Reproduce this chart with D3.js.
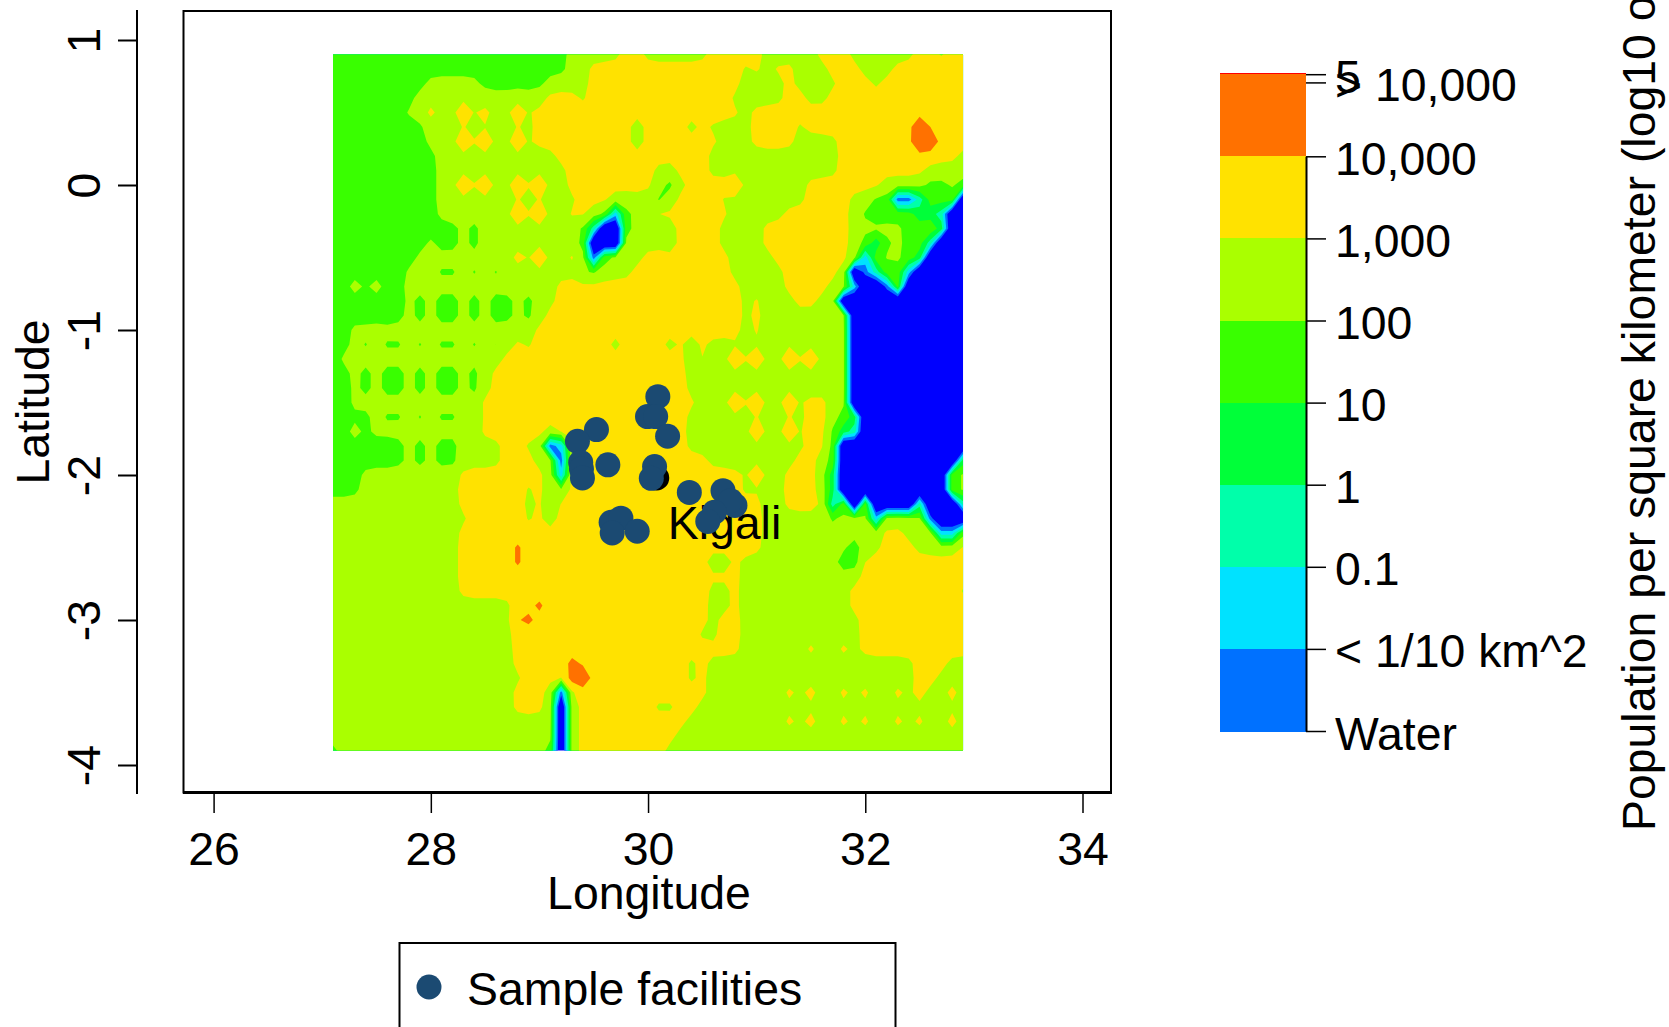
<!DOCTYPE html>
<html>
<head>
<meta charset="utf-8">
<script src="https://cdn.jsdelivr.net/npm/d3@7"></script>
<style>
html, body { margin: 0; padding: 0; background: #fff; overflow: hidden; }
text { font-family: "Liberation Sans", Arial, sans-serif; font-size: 46.4px; fill: #000; }
</style>
</head>
<body>
<div id="chart"></div>
<script>
// log10 population per km2 on a 0.1 degree grid
var lonStart = 27.1, latStart = 0.9, gridStep = 0.1, gridCols = 59;

// what each letter in densityRuns stands for
var densityCodes = { "0": -5, "1": -2.5, "2": -1.5, "3": -0.5, "4": 0.5, "g": 1, "n": 1.3, "5": 1.5, "q": 1.9, "r": 2.4, "6": 2.5, "m": 3.2,
    "7": 3.5, "s": 3.9, "t": 4.1, "h": 4.6, "j": 4.85, "9": 5, "8": 5.5 };

// one line per latitude, north to south: code:lastColumn
var densityRuns = [
    "5:21 6:26 7:28 6:34 7:39 6:44 7:47 6:53 7:55 6:56 7:58",
    "5:21 6:23 7:37 6:38 7:39 6:40 7:42 6:45 7:48 6:51 7:58",
    "5:8 6:13 5:19 6:23 7:37 6:41 7:42 6:46 7:49 6:50 7:58",
    "5:7 6:19 7:22 6:23 7:36 6:41 7:43 6:45 7:58",
    "5:6 6:8 t:9 6:11 9:12 6:13 t:14 6:16 9:17 6:18 7:37 6:38 7:58",
    "5:8 6:18 7:27 q:28 7:32 q:33 7:34 6:38 7:42 6:43 7:53 8:54 7:58",
    "5:8 6:11 9:12 6:13 9:14 6:16 9:17 6:18 7:27 q:28 7:35 6:36 7:37 6:38 7:42 6:46 7:53 8:55 7:58",
    "5:9 6:20 7:34 6:46 7:57 6:58",
    "5:9 6:21 7:29 6:31 7:34 6:46 7:54 6:58",
    "5:9 6:11 9:12 6:13 9:14 6:16 9:17 6:18 9:19 6:21 7:29 6:30 g:31 6:32 7:36 9:37 6:43 7:50 6:54 5:56 6:57 5:58",
    "5:9 6:22 7:25 6:29 g:30 6:31 7:35 6:43 7:47 6:49 5:51 1:53 3:54 5:57 0:58",
    "5:9 6:16 9:17 6:18 9:19 6:21 7:23 6:24 5:25 2:26 5:27 6:29 7:36 6:41 7:47 6:48 5:53 4:55 3:56 0:58",
    "5:11 6:12 n:13 6:22 5:23 3:24 0:26 5:27 6:29 7:30 q:31 7:35 6:39 7:47 6:52 5:54 6:55 4:56 0:58",
    "5:8 6:9 5:11 6:12 n:13 6:22 5:23 0:26 6:30 q:31 7:35 6:39 7:47 6:48 5:49 4:50 5:51 6:52 5:54 3:55 0:58",
    "5:7 6:16 t:17 6:18 9:19 6:21 s:22 6:23 1:24 5:25 6:28 7:36 6:40 7:47 6:48 2:49 5:50 6:52 5:53 4:54 0:58",
    "5:6 6:7 5:8 6:9 5:11 6:12 n:13 6:14 n:15 6:22 5:24 6:27 7:36 6:41 7:46 6:47 0:48 1:49 3:50 5:52 2:53 0:58",
    "5:1 m:2 5:3 m:4 5:6 6:20 7:37 6:41 7:45 6:47 2:48 0:50 1:51 5:52 0:58",
    "5:6 6:7 n:8 6:9 5:11 6:12 n:13 6:14 5:16 6:17 n:18 6:20 7:37 6:38 7:39 6:42 7:44 6:46 0:58",
    "5:6 6:7 n:8 6:9 5:11 6:12 n:13 6:14 5:16 6:17 n:18 6:19 7:37 6:38 7:39 6:47 0:58",
    "5:1 6:18 7:37 6:38 7:39 6:41 7:42 6:47 0:58",
    "5:1 6:2 n:3 6:4 5:6 6:7 n:8 6:9 5:11 6:12 n:13 6:14 n:15 6:16 7:17 6:18 7:25 q:26 7:30 q:31 7:32 q:33 7:34 6:47 0:58",
    "5:0 6:15 7:32 q:33 7:34 6:36 9:37 6:38 9:39 6:41 9:42 6:43 9:44 6:47 0:58",
    "5:1 6:2 n:3 6:4 5:6 6:7 n:8 6:9 5:11 6:12 n:13 6:14 7:32 6:47 0:58",
    "5:1 6:2 n:3 6:4 5:6 6:7 n:8 6:9 5:11 6:12 n:13 6:14 7:32 6:47 0:58",
    "5:1 6:13 7:33 6:36 9:37 6:38 9:39 6:41 9:42 6:43 7:45 6:47 0:58",
    "5:3 6:4 5:6 6:7 n:8 6:9 5:11 6:12 n:13 7:32 6:43 7:45 6:46 5:47 4:48 0:58",
    "5:1 m:2 5:3 6:13 7:19 6:20 7:32 6:38 9:39 6:41 9:42 6:43 7:45 5:46 4:47 3:48 0:58",
    "5:6 6:7 n:8 6:9 5:11 6:15 7:17 6:19 1:20 2:21 6:22 7:32 6:43 7:45 5:46 0:58",
    "5:6 6:7 n:8 6:9 5:11 6:15 7:18 6:20 1:21 7:34 6:42 7:44 6:45 5:46 0:57 4:58",
    "5:2 6:11 7:19 6:20 2:21 7:37 6:38 9:39 6:41 7:44 6:45 4:46 0:56 5:57 6:58",
    "5:2 6:11 7:17 6:18 7:19 6:20 5:21 7:37 6:41 7:44 6:45 4:46 0:56 5:57 6:58",
    "6:11 7:17 6:18 7:19 q:20 7:39 6:41 7:45 3:46 5:47 0:48 5:49 0:53 3:54 0:57 3:58",
    "6:12 7:17 6:18 7:19 q:20 7:39 6:45 5:46 6:49 2:50 6:54 1:55 0:58",
    "6:11 7:39 6:50 7:52 6:55 2:57 5:58",
    "6:11 7:16 h:17 7:39 6:47 g:48 6:50 7:53 6:57 7:58",
    "6:11 7:16 h:17 7:34 q:36 7:37 6:46 g:48 7:58",
    "6:11 7:37 6:48 7:58",
    "6:11 7:34 6:36 7:37 6:47 7:57 6:58",
    "6:16 7:18 j:19 7:34 6:36 7:37 6:47 7:58",
    "6:16 h:18 7:34 6:35 7:37 6:48 7:58",
    "6:16 7:33 6:35 7:37 6:48 7:58",
    "6:16 7:37 6:43 s:44 6:46 s:47 6:48 7:58",
    "6:16 7:21 h:22 7:32 r:33 7:34 6:53 7:56 6:58",
    "6:17 7:20 6:21 8:23 7:32 r:33 7:34 6:53 7:55 6:58",
    "6:16 7:19 6:20 1:21 6:22 7:34 6:41 s:42 6:43 t:44 6:46 s:47 6:48 s:49 6:51 s:52 6:53 s:54 6:56 t:57 6:58",
    "6:16 7:19 6:20 0:21 6:22 7:29 r:31 7:33 6:58",
    "6:20 0:21 6:22 7:32 6:41 s:42 6:43 t:44 6:46 s:47 6:48 s:49 6:51 s:52 6:53 s:54 6:56 t:57 6:58",
    "6:20 0:21 6:22 7:31 6:58",
    "5:0 6:19 5:20 0:21 6:22 7:30 6:58"
];

var contourLevels = [-10, -3, -2, -1, 0, 1, 2, 3, 4, 5];
var contourColors = ["#0000FF", "#0071FF", "#00E2FF", "#00FFAA", "#00FF39", "#39FF00", "#AAFF00", "#FFE200", "#FF7100", "#FF0000"];

var facilityLons = [29.525, 29.35, 29.38, 29.387, 29.396, 29.63, 30.09, 29.995, 30.07, 30.18, 30.06, 30.03, 30.38, 30.69, 30.8, 30.76, 30.61, 30.55, 29.66, 29.75, 29.67, 29.9];
var facilityLats = [-1.687, -1.768, -1.913, -1.958, -2.02, -1.93, -1.46, -1.597, -1.597, -1.733, -1.942, -2.023, -2.12, -2.108, -2.21, -2.177, -2.257, -2.32, -2.326, -2.298, -2.4, -2.388];
var cityLon = 30.08, cityLat = -2.02, cityName = "Kigali";

var lonTicks = [26, 28, 30, 32, 34];
var latTicks = [-4, -3, -2, -1, 0, 1];
var scaleTicks = [-3, -2, -1, 0, 1, 2, 3, 4, 4.9, 5];
var scaleLabels = ["Water", "< 1/10 km^2", "0.1", "1", "10", "100", "1,000", "10,000", "> 10,000", "5"];
var scaleBreaks = [-3.01, -2, -1, 0, 1, 2, 3, 4, 5, 5.02];
var scaleColors = contourColors.slice(1, 9).concat(["#FF0000"]);

var rows = densityRuns.length;
var values = [];
densityRuns.forEach(function(row) {
    var col = 0;
    row.split(" ").forEach(function(run) {
        var parts = run.split(":");
        for (; col <= +parts[1]; col++) values.push(densityCodes[parts[0]]);
    });
});

// soften the land cells a little so the edges run diagonally, water stays sharp
var landFloor = 1;
var smoothed = values.map(function(v, i) {
    if (v < landFloor) return v;
    var col = i % gridCols, row = Math.floor(i / gridCols), sum = 0, total = 0;
    [-1, 0, 1].forEach(function(dy) {
        [-1, 0, 1].forEach(function(dx) {
            var c = Math.min(gridCols - 1, Math.max(0, col + dx));
            var r = Math.min(rows - 1, Math.max(0, row + dy));
            var w = (dx ? 1 : 4) * (dy ? 1 : 4);
            sum += w * Math.max(values[r * gridCols + c], landFloor);
            total += w;
        });
    });
    return sum / total;
});

var svg = d3.select("#chart").append("svg").attr("width", 1669).attr("height", 1027);

var x = d3.scaleLinear().domain([26, 34]).range([213.6, 1082.5]);
var y = d3.scaleLinear().domain([-4, 1]).range([765, 40]);
var legendY = d3.scaleLinear().domain([-3, 4]).range([731, 156.3]);

var lonEnd = lonStart + gridStep * (gridCols - 1);
var latEnd = latStart - gridStep * (rows - 1);

svg.append("clipPath").attr("id", "map-clip")
    .append("rect")
    .attr("x", x(lonStart))
    .attr("y", y(latStart))
    .attr("width", x(lonEnd) - x(lonStart))
    .attr("height", y(latEnd) - y(latStart));

// contour coordinates have the grid values at +0.5
var gridToScreen = d3.geoTransform({
    point: function(cx, cy) {
        this.stream.point(x(lonStart + (cx - 0.5) * gridStep), y(latStart - (cy - 0.5) * gridStep));
    }
});

var contours = d3.contours()
    .size([gridCols, rows])
    .thresholds(contourLevels)(smoothed);

svg.append("g")
    .attr("clip-path", "url(#map-clip)")
    .selectAll("path")
    .data(contours)
    .enter()
    .append("path")
    .attr("d", d3.geoPath(gridToScreen))
    .attr("fill", function(d, i) { return contourColors[i]; });

// city marker and name sit under the facilities
svg.append("circle")
    .attr("cx", x(cityLon))
    .attr("cy", y(cityLat))
    .attr("r", 12.5)
    .attr("fill", "#000");

svg.append("text")
    .attr("x", x(cityLon) + 11)
    .attr("y", 539)
    .text(cityName);

svg.append("g")
    .selectAll("circle")
    .data(facilityLons)
    .enter()
    .append("circle")
    .attr("cx", function(d) { return x(d); })
    .attr("cy", function(d, i) { return y(facilityLats[i]); })
    .attr("r", 12.5)
    .attr("fill", "#1B4A72");

// plot box
svg.append("rect")
    .attr("x", 183.5)
    .attr("y", 11)
    .attr("width", 927.5)
    .attr("height", 781.5)
    .attr("fill", "none")
    .attr("stroke", "#000")
    .attr("stroke-width", 2);

svg.append("line")
    .attr("x1", 183)
    .attr("x2", 1112)
    .attr("y1", 792.5)
    .attr("y2", 792.5)
    .attr("stroke", "#000")
    .attr("stroke-width", 3);

var xAxis = svg.append("g")
    .attr("transform", "translate(0,794)")
    .call(d3.axisBottom(x).tickValues(lonTicks).tickSize(19).tickSizeOuter(0));
xAxis.select(".domain").remove();
xAxis.selectAll("text").attr("y", 0).attr("dy", null)
    .attr("transform", "translate(0,71)")
    .style("font-size", "46.4px")
    .style("font-family", "Liberation Sans");
xAxis.selectAll("line").attr("stroke-width", 1.5);

var yAxis = svg.append("g")
    .attr("transform", "translate(137,0)")
    .call(d3.axisLeft(y).tickValues(latTicks).tickSize(19).tickSizeOuter(0)
        .tickFormat(function(d) { return String(d); }));
yAxis.select(".domain").remove();
yAxis.selectAll("text")
    .attr("x", 0).attr("y", 0).attr("dy", null)
    .attr("transform", "translate(-37,0) rotate(-90)")
    .style("text-anchor", "middle")
    .style("font-size", "46.4px")
    .style("font-family", "Liberation Sans");
yAxis.selectAll("line").attr("stroke-width", 2);

svg.append("line")
    .attr("x1", 137).attr("x2", 137)
    .attr("y1", 10).attr("y2", 794)
    .attr("stroke", "#000")
    .attr("stroke-width", 2);

svg.append("text")
    .attr("x", 649)
    .attr("y", 909)
    .style("text-anchor", "middle")
    .text("Longitude");

svg.append("text")
    .attr("transform", "translate(49,402) rotate(-90)")
    .style("text-anchor", "middle")
    .text("Latitude");

// legend box runs off the bottom of the page
svg.append("rect")
    .attr("x", 399.5)
    .attr("y", 943)
    .attr("width", 496)
    .attr("height", 120)
    .attr("fill", "none")
    .attr("stroke", "#000")
    .attr("stroke-width", 2);

svg.append("circle")
    .attr("cx", 429)
    .attr("cy", 987)
    .attr("r", 12.5)
    .attr("fill", "#1B4A72");

svg.append("text")
    .attr("x", 467)
    .attr("y", 1005)
    .text("Sample facilities");

// colour scale
svg.append("g")
    .attr("shape-rendering", "crispEdges")
    .selectAll("rect")
    .data(scaleColors)
    .enter()
    .append("rect")
    .attr("x", 1220)
    .attr("width", 86)
    .attr("y", function(d, i) { return legendY(scaleBreaks[i + 1]); })
    .attr("height", function(d, i) { return legendY(scaleBreaks[i]) - legendY(scaleBreaks[i + 1]); })
    .attr("fill", function(d) { return d; });

var legendAxis = svg.append("g")
    .attr("transform", "translate(1306,0)")
    .call(d3.axisRight(legendY)
        .tickValues(scaleTicks)
        .tickSize(20)
        .tickSizeOuter(0)
        .tickFormat(function(d, i) { return scaleLabels[i]; }));
legendAxis.select(".domain").attr("stroke-width", 2);
legendAxis.selectAll("line").attr("stroke-width", 1.5);
legendAxis.selectAll("text")
    .attr("x", 29).attr("y", 0).attr("dy", 18)
    .style("text-anchor", "start")
    .style("font-size", "46.4px")
    .style("font-family", "Liberation Sans");

svg.append("text")
    .attr("transform", "translate(1655,831) rotate(-90)")
    .text("Population per square kilometer (log10 of people)");
</script>
</body>
</html>
